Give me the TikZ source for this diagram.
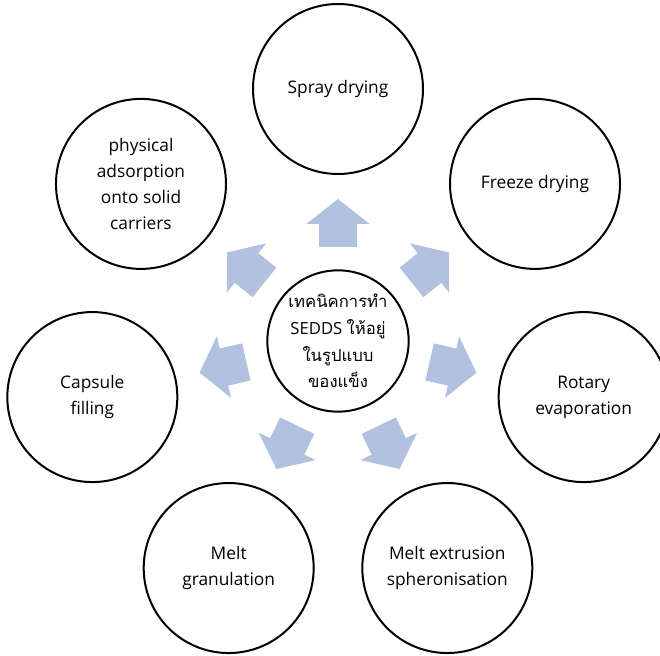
\documentclass[tikz,border=0pt]{standalone}
\usepackage{fontspec}
\setmainfont{Open Sans}
\newfontfamily\thai[Script=Thai]{Loma}
\usetikzlibrary{arrows.meta}
\definecolor{arrowblue}{RGB}{178,194,222}

\begin{document}
\begin{tikzpicture}[every node/.style={font=\fontsize{13}{19.5}\selectfont,align=center},
    method/.style={circle,draw,line width=1.5pt,minimum size=127.5pt,inner sep=0pt},
    push/.style={draw=arrowblue,line width=28.5pt,shorten <=16.75pt,shorten >=18pt,
      -{Triangle[length=18.75pt,width=47.25pt,line width=1pt]}}]
    \clip (-253.5pt,-236.25pt) rectangle (241.5pt,255.75pt);
    \node[circle,draw,line width=1.5pt,minimum size=106pt,inner sep=0pt,font=\fontsize{12.5}{20}\selectfont] at (0,0) (solid)
      {{\thai เทคนิคการทำ}\\SEDDS {\thai ให้อยู่}\\{\thai ในรูปแบบ}\\{\thai ของแข็ง}};
    \node[method] at (90:189pt) (spray) {Spray drying};
    \node[method] at (38.57:189pt) (freeze) {Freeze drying};
    \node[method] at (-12.86:189pt) (rotary) {Rotary\\evaporation};
    \node[method] at (-64.29:189pt) (extrusion) {Melt extrusion\\spheronisation};
    \node[method] at (-115.71:189pt) (granulation) {Melt\\granulation};
    \node[method] at (-167.14:189pt) (capsule) {Capsule\\filling};
    \node[method] at (141.43:189pt) (adsorption) {physical\\adsorption\\onto solid\\carriers};
    \draw (solid) edge[push] (spray);
    \draw (solid) edge[push] (freeze);
    \draw (solid) edge[push] (rotary);
    \draw (solid) edge[push] (extrusion);
    \draw (solid) edge[push] (granulation);
    \draw (solid) edge[push] (capsule);
    \draw (solid) edge[push] (adsorption);
\end{tikzpicture}
\end{document}
